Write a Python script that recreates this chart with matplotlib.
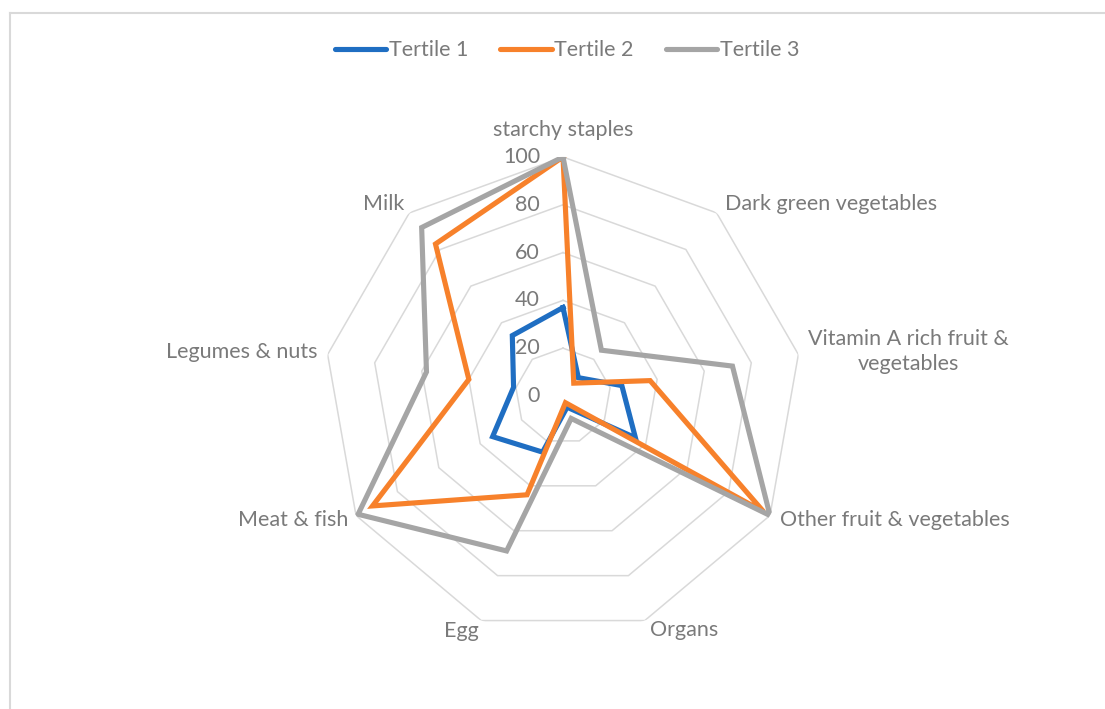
import matplotlib.pyplot as plt
import numpy as np
from matplotlib.lines import Line2D

categories = [
    'starchy staples',
    'Dark green vegetables',
    'Vitamin A rich fruit &\nvegetables',
    'Other fruit & vegetables',
    'Organs',
    'Egg',
    'Meat & fish',
    'Legumes & nuts',
    'Milk',
]
tertile1 = [37, 10, 25, 35, 5, 25, 34, 21, 33]
tertile2 = [100, 7, 37, 97, 3, 44, 92, 40, 83]
tertile3 = [100, 25, 72, 100, 10, 69, 99, 58, 92]
ring_levels = [20, 40, 60, 80, 100]
tick_levels = [0, 20, 40, 60, 80, 100]

series = [
    ('Tertile 1', tertile1, '#1F6EC2'),
    ('Tertile 2', tertile2, '#F7812B'),
    ('Tertile 3', tertile3, '#A5A5A5'),
]

text_color = '#7A7A7A'
grid_color = '#D9D9D9'
fs = 15.5
plt.rcParams['font.family'] = ['Lato', 'DejaVu Sans']

fig = plt.figure(figsize=(11.05, 7.09), dpi=100)
ax = fig.add_axes([0.2932, 0.1044, 0.4326, 0.6742], projection='polar')
ax.set_theta_zero_location('N')
ax.set_theta_direction(-1)
ax.set_ylim(0, 100)
ax.grid(False)
ax.spines['polar'].set_visible(False)
ax.set_xticks([])
ax.set_yticks([])
ax.patch.set_alpha(0)

n = len(categories)
angles = np.linspace(0, 2 * np.pi, n, endpoint=False)
closed = np.append(angles, angles[0])

# polygon grid rings
for lvl in ring_levels:
    ax.plot(closed, [lvl] * (n + 1), color=grid_color, lw=1.1, zorder=1)

# data
for name, vals, color in series:
    v = np.append(vals, vals[0])
    ax.plot(closed, v, color=color, lw=3.7, label=name, zorder=3,
            solid_joinstyle='miter')

# value axis labels
for lvl in tick_levels:
    ax.annotate(str(lvl), xy=(0, lvl), xytext=(-23, 0),
                textcoords='offset pixels', ha='right', va='center',
                fontsize=fs, color=text_color, zorder=2)

# category labels
label_offsets = [
    ((0, 27), 'center', 'center'),
    ((8, 9), 'left', 'center'),
    ((10, 3), 'left', 'center'),
    ((10, -5), 'left', 'center'),
    ((5, -9), 'left', 'center'),
    ((-3, -10), 'right', 'center'),
    ((-8, -5), 'right', 'center'),
    ((-10, 2), 'right', 'center'),
    ((-5, 9), 'right', 'center'),
]
for ang, cat, (off, ha, va) in zip(angles, categories, label_offsets):
    ax.annotate(cat, xy=(ang, 100), xytext=off, textcoords='offset pixels',
                ha=ha, va=va, ma='center', fontsize=fs, color=text_color,
                annotation_clip=False, linespacing=1.3)

handles = [Line2D([0], [0], color=c, lw=3.7, solid_capstyle='round')
           for _, _, c in series]
fig.legend(handles, [s[0] for s in series], loc='center',
           bbox_to_anchor=(0.513, 0.929), ncol=3, frameon=False,
           fontsize=fs, labelcolor=text_color, handlelength=2.4,
           handletextpad=0.1, columnspacing=1.5)

# chart frame (cropped on right and bottom)
fig.add_artist(Line2D([10 / 1105, 10 / 1105], [0, 1 - 13 / 709],
                      transform=fig.transFigure, color=grid_color, lw=1.5))
fig.add_artist(Line2D([10 / 1105, 1.0], [1 - 13 / 709, 1 - 13 / 709],
                      transform=fig.transFigure, color=grid_color, lw=1.5))

fig.savefig('out.png', dpi=100, facecolor='white')
